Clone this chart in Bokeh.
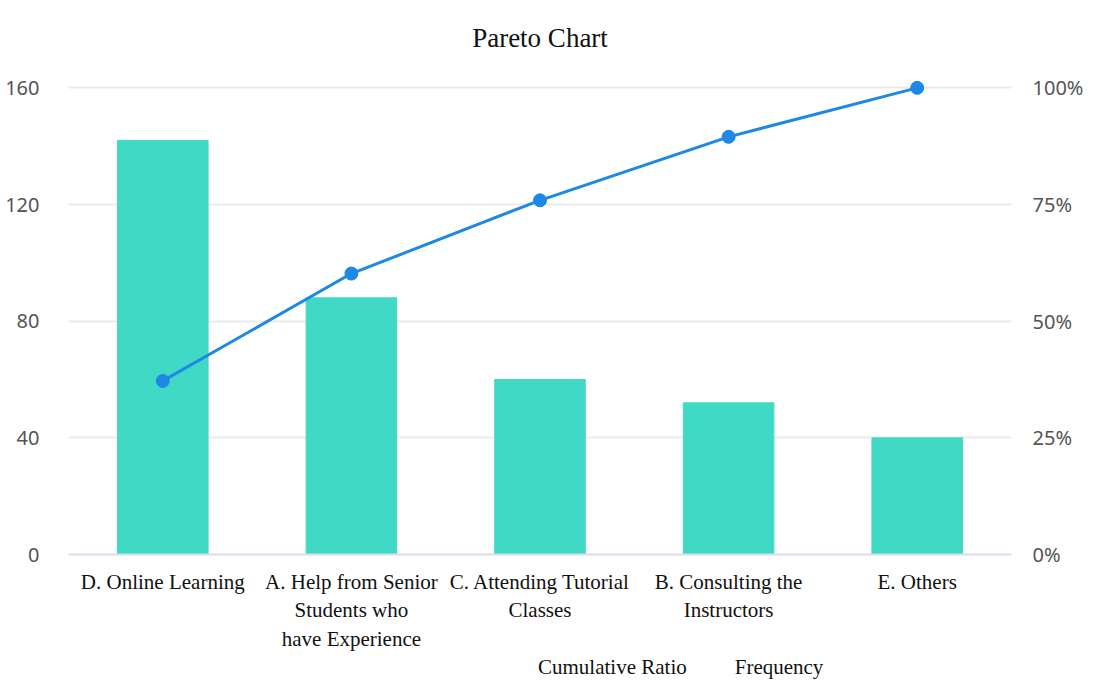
from bokeh.plotting import figure
from bokeh.layouts import column
from bokeh.models import Range1d, LinearAxis, Legend, LegendItem, NumeralTickFormatter, FixedTicker
from bokeh.embed import file_html
from bokeh.resources import INLINE

categories = ["D. Online Learning", "A. Help from Senior\nStudents who\nhave Experience",
              "C. Attending Tutorial\nClasses", "B. Consulting the\nInstructors", "E. Others"]
frequency = [142, 88, 60, 52, 40]
cumulative_ratio = [0.372, 0.602, 0.759, 0.895, 1.0]
left_ticks = [0, 40, 80, 120, 160]
right_ticks = [0, 0.25, 0.5, 0.75, 1.0]

BAR = "#40D9C5"
LINE = "#1E88E5"

fig = figure(width=1086, height=654, x_range=categories, y_range=Range1d(0, 168),
             output_backend="svg", toolbar_location=None,
             min_border_left=68, min_border_right=66, min_border_top=64, min_border_bottom=96)
fig.outline_line_color = None
fig.title.text = "Pareto Chart"
fig.title.align = "center"
fig.title.text_font = "Liberation Serif"
fig.title.text_font_size = "27px"
fig.title.text_font_style = "normal"
fig.title.text_color = "#111111"
fig.title.standoff = 24

fig.extra_y_ranges = {"ratio": Range1d(0, 1.05)}

fig.vbar(x=categories, top=frequency, width=0.48, color=BAR)
fig.line(x=categories, y=cumulative_ratio, y_range_name="ratio", line_color=LINE, line_width=3)
fig.scatter(x=categories, y=cumulative_ratio, y_range_name="ratio", size=13,
            fill_color=LINE, line_color=LINE)

ya = fig.yaxis[0]
ya.ticker = FixedTicker(ticks=left_ticks)
ya.axis_line_color = None
ya.major_tick_line_color = None
ya.minor_tick_line_color = None
ya.major_label_text_font = "Noto Sans"
ya.major_label_text_font_size = "20px"
ya.major_label_text_color = "#555555"
ya.major_label_standoff = 23

ra = LinearAxis(y_range_name="ratio", ticker=FixedTicker(ticks=right_ticks),
                formatter=NumeralTickFormatter(format="0%"))
ra.axis_line_color = None
ra.major_tick_line_color = None
ra.minor_tick_line_color = None
ra.major_label_text_font = "Noto Sans"
ra.major_label_text_font_size = "20px"
ra.major_label_text_color = "#555555"
ra.major_label_standoff = 15
fig.add_layout(ra, "right")

xa = fig.xaxis[0]
xa.axis_line_color = "#DCDCEB"
xa.axis_line_width = 2
xa.major_tick_line_color = None
xa.minor_tick_line_color = None
xa.major_label_text_font = "Liberation Serif"
xa.major_label_text_font_size = "21px"
xa.major_label_text_color = "#111111"
xa.major_label_standoff = 9

fig.xgrid.grid_line_color = None
fig.ygrid.grid_line_color = "#EBEBEB"
fig.ygrid.grid_line_width = 2
fig.ygrid.ticker = FixedTicker(ticks=left_ticks)

# legend strip below the chart
leg = figure(width=1086, height=28, x_range=Range1d(0, 1), y_range=Range1d(0, 1),
             output_backend="svg", toolbar_location=None,
             min_border_left=0, min_border_right=0, min_border_top=0, min_border_bottom=0)
leg.axis.visible = False
leg.grid.grid_line_color = None
leg.outline_line_color = None
l_line = leg.line(x=[], y=[], line_color=LINE, line_width=3)
l_pts = leg.scatter(x=[], y=[], size=13, fill_color=LINE, line_color=LINE)
l_bar = leg.vbar(x=[], top=[], width=0.5, color=BAR)
legend = Legend(items=[LegendItem(label="Cumulative Ratio", renderers=[l_line, l_pts]),
                       LegendItem(label="Frequency", renderers=[l_bar])],
                orientation="horizontal", location=(440, 2),
                label_text_font="Liberation Serif", label_text_font_size="21px",
                label_text_color="#111111", border_line_color=None, background_fill_alpha=0,
                glyph_width=22, glyph_height=22, spacing=18, padding=0, margin=0,
                label_standoff=8, label_height=22)
leg.add_layout(legend, "center")

p = column(fig, leg, spacing=0)

open("out.html", "w").write(file_html(p, INLINE))
